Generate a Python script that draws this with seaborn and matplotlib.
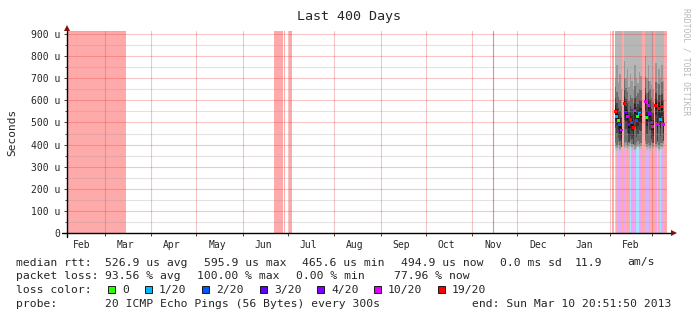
import numpy as np
import pandas as pd
import matplotlib
matplotlib.use("Agg")
import matplotlib.pyplot as plt
import matplotlib.dates as mdates
from matplotlib.patches import Rectangle
import seaborn as sns

# ---------------- data ----------------
title = "Last 400 Days"
window_start = "2012-02-05"
window_end = "2013-03-11"
month_labels = ["Feb", "Mar", "Apr", "May", "Jun", "Jul", "Aug",
                "Sep", "Oct", "Nov", "Dec", "Jan", "Feb"]
y_ticks = [0, 100, 200, 300, 400, 500, 600, 700, 800, 900]
y_tick_labels = ["0", "100 u", "200 u", "300 u", "400 u", "500 u",
                 "600 u", "700 u", "800 u", "900 u"]

# periods with 100 % loss (full height pink)
loss_start = ["2012-02-05", "2012-06-22", "2012-06-28 16:00", "2012-07-02",
              "2013-02-02 12:00"]
loss_end = ["2012-03-15", "2012-06-28", "2012-06-29 12:00", "2012-07-04",
            "2013-02-03 12:00"]
marker_dates = ["2012-11-15"]

# daily bins of the last weeks
bin_start = "2013-02-04"
median_us = [549, 529, 507, 490, 466, np.nan, 587, 545, 526, 489, 514, 500,
             478, 553, 511, 525, 541, 537, np.nan, np.nan, 594, 523, 576, 540,
             501, 481, np.nan, 575, 492, 564, 514, 571, 493, np.nan, np.nan]
loss_level = [6, 1, 0, 2, 5, -1, 6, 3, 5, 4, 6, 2, 6, 5, 2, 0, 1, 6, -1, -1,
              5, 0, 5, 4, 2, 5, -1, 6, 5, 6, 1, 6, 5, -1, -1]
smoke_low_us = [380, 372, 385, 370, 390, np.nan, 378, 385, 372, 380, 390, 375,
                382, 370, 378, 388, 375, 380, np.nan, np.nan, 390, 375, 380,
                372, 385, 378, np.nan, 375, 385, 370, 380, 378, 390, np.nan,
                np.nan]
smoke_mid_us = [700, 760, 680, 720, 650, np.nan, 780, 700, 740, 660, 720, 690,
                650, 760, 700, 680, 730, 710, np.nan, np.nan, 800, 700, 760,
                690, 670, 650, np.nan, 770, 680, 740, 700, 760, 690, np.nan,
                np.nan]
stripe_kind = ["B", "P", "L", "M", "M", "P", "M", "P", "M", "P", "B", "M", "P",
               "M", "B", "B", "P", "M", "P", "P", "P", "L", "L", "P", "M", "P",
               "P", "M", "B", "P", "B", "M", "M", "P", "P"]

loss_names = ["0", "1/20", "2/20", "3/20", "4/20", "10/20", "19/20"]
loss_colors = ["#26ff00", "#00b8ff", "#0059ff", "#5e00ff", "#7e00ff",
               "#dd00ff", "#ff0000"]

legend_rows = [
    [(16, "median rtt:"), (105, "526.9 us avg"), (204, "595.9 us max"),
     (302, "465.6 us min"), (401, "494.9 us now"), (500, "0.0 ms sd"),
     (575, "11.9"), (627, "am/s")],
    [(16, "packet loss:"), (105, "93.56 % avg"), (197, "100.00 % max"),
     (296, "0.00 % min"), (394, "77.96 % now")],
    [(16, "loss color:")],
    [(16, "probe:"), (105, "20 ICMP Echo Pings (56 Bytes) every 300s"),
     (472, "end: Sun Mar 10 20:51:50 2013")],
]
legend_box_x = [108, 145, 202, 260, 317, 374, 438]

# ---------------- style ----------------
sns.set_style("white")
plt.rcParams["font.family"] = ["DejaVu Sans Mono"]

W, H = 697, 321
fig = plt.figure(figsize=(W / 100, H / 100), dpi=100)
fig.patch.set_facecolor("white")
AX_L, AX_R, AX_T, AX_B = 67, 667, 31, 233
ax = fig.add_axes([AX_L / W, 1 - AX_B / H, (AX_R - AX_L) / W, (AX_B - AX_T) / H])
ax.set_facecolor("white")
for s in ax.spines.values():
    s.set_visible(False)

t0 = pd.Timestamp(window_start)
t1 = pd.Timestamp(window_end)
ax.set_xlim(mdates.date2num(t0), mdates.date2num(t1))
YMAX = 914
ax.set_ylim(0, YMAX)

PINK = "#ffaaaa"
stripe_colors = {"P": "#ffaab0", "B": "#a8e4ff", "M": "#f2a2f6", "L": "#d8b2ff"}

# full loss periods
for a, b in zip(loss_start, loss_end):
    ax.axvspan(mdates.date2num(pd.Timestamp(a)), mdates.date2num(pd.Timestamp(b)),
               color=PINK, lw=0, zorder=1)
for i in (0, 3):
    ax.plot([mdates.date2num(pd.Timestamp(loss_start[i])),
             mdates.date2num(pd.Timestamp(loss_end[i]))], [YMAX - 2, YMAX - 2],
            color="#c8a8f0", lw=1.2, zorder=2, solid_capstyle="butt")

# daily bins
n = len(median_us)
days = pd.date_range(bin_start, periods=n, freq="D")
xb = mdates.date2num(days)
df = pd.DataFrame({"x": xb + 0.5, "median": median_us, "loss": loss_level,
                   "lo": smoke_low_us, "mid": smoke_mid_us, "stripe": stripe_kind})

for i, r in df.iterrows():
    x = xb[i]
    if np.isnan(r["median"]):
        ax.bar(x, YMAX, width=1, align="edge", color=PINK, lw=0, zorder=2,
               antialiased=False)
        continue
    ax.bar(x, r["lo"], width=1, align="edge", color=stripe_colors[r["stripe"]],
           lw=0, zorder=2, antialiased=False)
    m = r["median"]
    layers = [
        (r["lo"], YMAX, "#b7b7b7"),
        (r["lo"] + 12, r["mid"], "#989898"),
        (r["lo"] + 28, m + 110, "#707070"),
        (m - 75, m + 60, "#484848"),
        (m - 40, m + 30, "#2c2c2c"),
        (m - 14, m + 12, "#121212"),
    ]
    for lo, hi, c in layers:
        ax.bar(x, hi - lo, bottom=lo, width=1, align="edge", color=c, lw=0,
               zorder=3, antialiased=False)

med = df.dropna(subset=["median"]).copy()
med["loss_name"] = [loss_names[int(k)] for k in med["loss"]]
sns.scatterplot(data=med, x="x", y="median", hue="loss_name",
                palette=dict(zip(loss_names, loss_colors)), marker="s", s=4.5,
                linewidth=0, legend=False, ax=ax, zorder=5)
ax.set_xlabel("")
ax.set_ylabel("")

# grid on top
for yv in range(50, 901, 100):
    ax.axhline(yv, color="#9a9a9a", alpha=0.28, lw=0.8, zorder=6)
for yv in y_ticks[1:]:
    ax.axhline(yv, color="#e03030", alpha=0.28, lw=0.8, zorder=6)
month_starts = pd.date_range("2012-03-01", "2013-03-01", freq="MS")
for d in month_starts:
    ax.axvline(mdates.date2num(d), color="#e03030", alpha=0.28, lw=0.8, zorder=6)
for d in marker_dates:
    ax.axvline(mdates.date2num(pd.Timestamp(d)), color="#d02020", alpha=0.5,
               lw=0.8, zorder=6)

# axes lines and arrows
ax.plot([-5 / 600, 1 + 4 / 600], [0, 0], transform=ax.transAxes, color="black",
        lw=1.0, clip_on=False, zorder=20)
ax.plot([0, 0], [-4 / 202, 1], transform=ax.transAxes, color="black", lw=1.0,
        clip_on=False, zorder=20)
ax.plot([1 + 7 / 600], [0], transform=ax.transAxes, marker=">", color="#7f1010",
        markersize=4.5, clip_on=False, zorder=21, markeredgewidth=0)
ax.plot([0], [1 + 3 / 202], transform=ax.transAxes, marker="^", color="#7f1010",
        markersize=4.5, clip_on=False, zorder=21, markeredgewidth=0)

# ticks
ax.set_yticks(y_ticks)
ax.set_yticklabels(y_tick_labels)
ax.set_yticks(list(range(50, 901, 100)), minor=True)
ax.tick_params(axis="y", which="major", direction="out", length=2.2, width=0.7,
               color="#444444", labelsize=7, pad=2.5, left=True)
ax.tick_params(axis="y", which="minor", direction="out", length=1.2, width=0.7,
               color="#444444", left=True)
ax.set_xticks(mdates.date2num(month_starts))
ax.set_xticklabels([""] * len(month_starts))
mid_months = pd.date_range("2012-02-01", "2013-02-01", freq="MS") + pd.Timedelta(days=14)
ax.set_xticks(mdates.date2num(mid_months), labels=month_labels, minor=True)
ax.tick_params(axis="x", which="major", direction="out", length=2.2, width=0.7,
               color="#444444", bottom=True)
ax.tick_params(axis="x", which="minor", length=0, labelsize=7, pad=5, bottom=True)

# y unit label, title and watermark
fig.text(12.5 / W, 1 - 132 / H, "Seconds", rotation=90, ha="center",
         va="center", fontsize=8)
fig.text(349 / W, 1 - 20 / H, title, ha="center", va="baseline", fontsize=9.6)
fig.text(686 / W, 1 - 62 / H, "RRDTOOL / TOBI OETIKER", rotation=-90,
         ha="center", va="center", fontsize=5.8, color="#b8b8b8")

# legend texts
baselines = [265.5, 279, 293, 307]
for row, yb in zip(legend_rows, baselines):
    for x, s in row:
        fig.text(x / W, 1 - yb / H, s, ha="left", va="baseline", fontsize=8.2)
for bx, name, c in zip(legend_box_x, loss_names, loss_colors):
    fig.add_artist(Rectangle((bx / W, 1 - 293 / H), 7 / W, 7 / H,
                             transform=fig.transFigure, facecolor=c,
                             edgecolor="black", lw=0.6))
    fig.text((bx + 14) / W, 1 - 293 / H, name, ha="left", va="baseline",
             fontsize=8.2)

fig.savefig("out.png", dpi=100, facecolor="white")
